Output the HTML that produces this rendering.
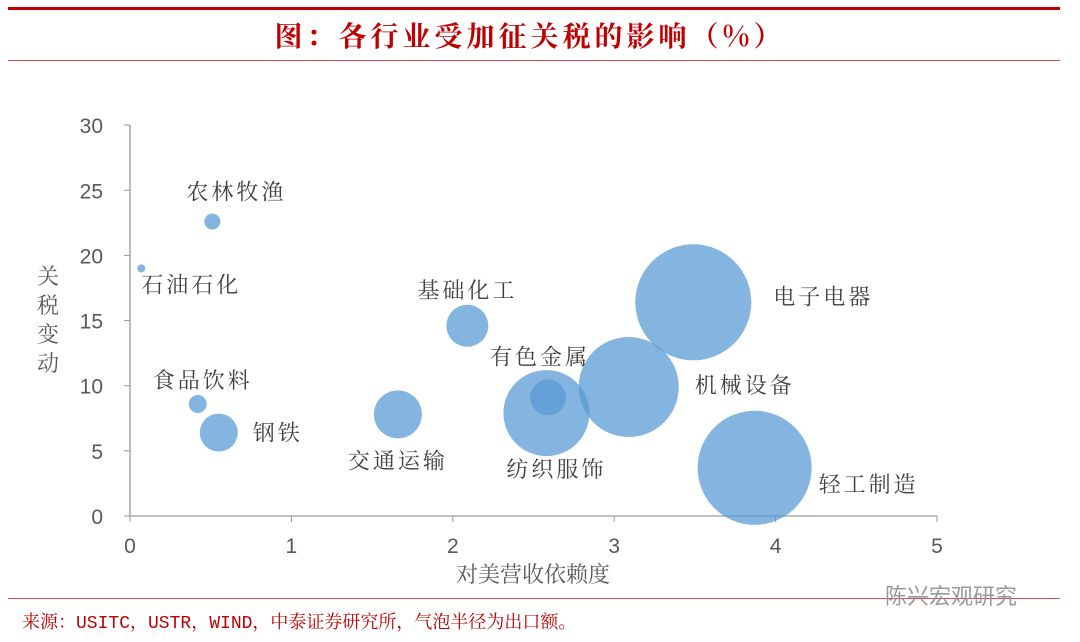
<!DOCTYPE html>
<html><head><meta charset="utf-8">
<style>
body{margin:0;background:#fff;width:1080px;height:642px;overflow:hidden;font-family:"Liberation Sans","Noto Serif CJK SC",serif;}
svg{display:block}
</style></head>
<body>
<svg id="chart" width="1080" height="642">
<rect x="8" y="7" width="1052" height="3" fill="#c00000"/>
<text x="530" y="46" text-anchor="middle" font-size="28" font-weight="bold" letter-spacing="4" fill="#c00000" font-family="Noto Serif CJK SC, serif">图：各行业受加征关税的影响（%）</text>
<rect x="8" y="60" width="1052" height="1" fill="#d05050"/>
<rect x="8" y="598" width="1052" height="1" fill="#d05050"/>
<text x="22" y="628" font-size="18" fill="#c00000" font-family="Liberation Mono, Noto Serif CJK SC, monospace">来源：USITC，USTR，WIND，中泰证券研究所，气泡半径为出口额。</text>
<text x="885" y="604" font-size="22" fill="#999" font-family="Noto Sans CJK SC, sans-serif">陈兴宏观研究</text>
<g id="axes"></g>
<g id="bubbles"></g>
</svg>
<script>
const names=["农林牧渔","石油石化","食品饮料","钢铁","交通运输","基础化工","纺织服饰","有色金属","机械设备","电子电器","轻工制造"];
const xVals=[0.51,0.07,0.42,0.55,1.66,2.09,2.58,2.59,3.09,3.49,3.87];
const yVals=[22.6,19.0,8.6,6.4,7.8,14.6,7.9,9.1,9.9,16.4,3.7];
const sizes=[8,4,9,19,24,21,43,18,50,58,57];
const xTicks=[0,1,2,3,4,5];
const yTicks=[0,5,10,15,20,25,30];
const labelOff=[[-26,-30],[0,16],[-45,-24],[34,0],[-50,46],[-50,-36],[-40,56],[-58,-41],[66,-2],[80,-6],[64,16]];
const NS="http://www.w3.org/2000/svg";
const X=v=>130+v*161.4, Y=v=>516-v*13.03;
const ax=document.getElementById('axes'), bg=document.getElementById('bubbles');
function mk(t,a,p){const e=document.createElementNS(NS,t);for(const k in a)e.setAttribute(k,a[k]);p.appendChild(e);return e;}
let l=mk('line',{x1:X(0),y1:Y(0),x2:X(5),y2:Y(0),stroke:'#999','stroke-width':1.3},ax);


l=mk('line',{x1:X(0),y1:Y(0),x2:X(0),y2:Y(30),stroke:'#999','stroke-width':1.3},ax);


xTicks.forEach(v=>{mk('line',{x1:X(v),y1:516,x2:X(v),y2:522,stroke:'#999'},ax);
 const t=mk('text',{x:X(v),y:553,'text-anchor':'middle','font-size':21,fill:'#595959'},ax);t.textContent=v;
 
 });
yTicks.forEach(v=>{mk('line',{x1:124,y1:Y(v),x2:130,y2:Y(v),stroke:'#999'},ax);
 const t=mk('text',{x:103,y:Y(v)+8,'text-anchor':'end','font-size':21,fill:'#595959'},ax);t.textContent=v;
 
 });
let t=mk('text',{x:533,y:582,'text-anchor':'middle','font-size':22,fill:'#595959','font-family':'Noto Serif CJK SC, serif'},ax);t.textContent='对美营收依赖度';


['关','税','变','动'].forEach((c,i)=>{const e=mk('text',{x:48,y:284+i*29,'text-anchor':'middle','font-size':22,fill:'#595959','font-family':'Noto Serif CJK SC, serif'},ax);e.textContent=c;
 
 });
names.forEach((n,i)=>{
 const c=mk('circle',{cx:X(xVals[i]),cy:Y(yVals[i]),r:sizes[i],fill:'#5b9bd5','fill-opacity':0.75},bg);
 
 
});
names.forEach((n,i)=>{
 const e=mk('text',{x:X(xVals[i])+labelOff[i][0],y:Y(yVals[i])+labelOff[i][1]+8,'font-size':22,fill:'#404040','font-family':'Noto Serif CJK SC, serif','letter-spacing':3},bg);
 e.textContent=n;
 
 
});
</script>
</body></html>
